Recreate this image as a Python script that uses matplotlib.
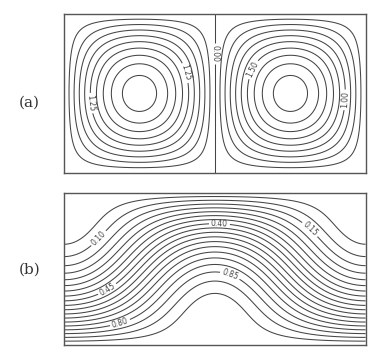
import numpy as np
import matplotlib.pyplot as plt

# (a) stream function of the two counter-rotating cells
psi_amp = 2.4
psi_levels = [-2.25, -2.0, -1.75, -1.5, -1.25, -1.0, -0.75, -0.5, -0.25, 0.0,
              0.25, 0.5, 0.75, 1.0, 1.25, 1.5, 1.75, 2.0, 2.25]
psi_label_pts = [(0.19, 0.44), (0.81, 0.63), (1.01, 0.75), (1.25, 0.65), (1.85, 0.46)]

# (b) temperature field, hot plume rising in the middle
temp_amp = 0.33
temp_levels = [0.05, 0.10, 0.15, 0.20, 0.25, 0.30, 0.35, 0.40, 0.45, 0.50,
               0.55, 0.60, 0.65, 0.70, 0.75, 0.80, 0.85, 0.90, 0.95]
temp_label_pts = [(0.21, 0.72), (0.29, 0.36), (0.37, 0.15), (1.10, 0.46),
                  (1.03, 0.80), (1.63, 0.76)]

x = np.linspace(0.002, 1.998, 400)
y = np.linspace(0.002, 0.998, 200)
X, Y = np.meshgrid(x, y)
psi = psi_amp * np.sin(np.pi * X) * np.sin(np.pi * Y)
temp = (1 - Y) - temp_amp * np.sin(np.pi * Y) * np.cos(np.pi * X)

line_col = '#454545'
fig = plt.figure(figsize=(3.70, 3.48), dpi=100)

ax1 = fig.add_axes([0.173, 0.503, 0.816, 0.457])
cs1 = ax1.contour(X, Y, psi, levels=psi_levels, colors=line_col, linewidths=0.75,
                  linestyles='solid')
ax1.clabel(cs1, fmt=lambda v: '%.2f' % abs(v), fontsize=5.5, manual=psi_label_pts,
           inline=True, inline_spacing=2)

ax2 = fig.add_axes([0.173, 0.009, 0.816, 0.437])
cs2 = ax2.contour(X, Y, temp, levels=temp_levels, colors=line_col, linewidths=0.75)
ax2.clabel(cs2, fmt='%.2f', fontsize=5.5, manual=temp_label_pts,
           inline=True, inline_spacing=2)

for ax in (ax1, ax2):
    ax.set_xlim(0, 2)
    ax.set_ylim(0, 1)
    ax.set_xticks([])
    ax.set_yticks([])
    for s in ax.spines.values():
        s.set_color('#555555')
        s.set_linewidth(1.0)

fig.text(0.08, 0.705, '(a)', fontsize=11, family='DejaVu Serif', color='#333333',
         ha='center', va='center')
fig.text(0.08, 0.225, '(b)', fontsize=11, family='DejaVu Serif', color='#333333',
         ha='center', va='center')

fig.savefig('out.png', dpi=100)
